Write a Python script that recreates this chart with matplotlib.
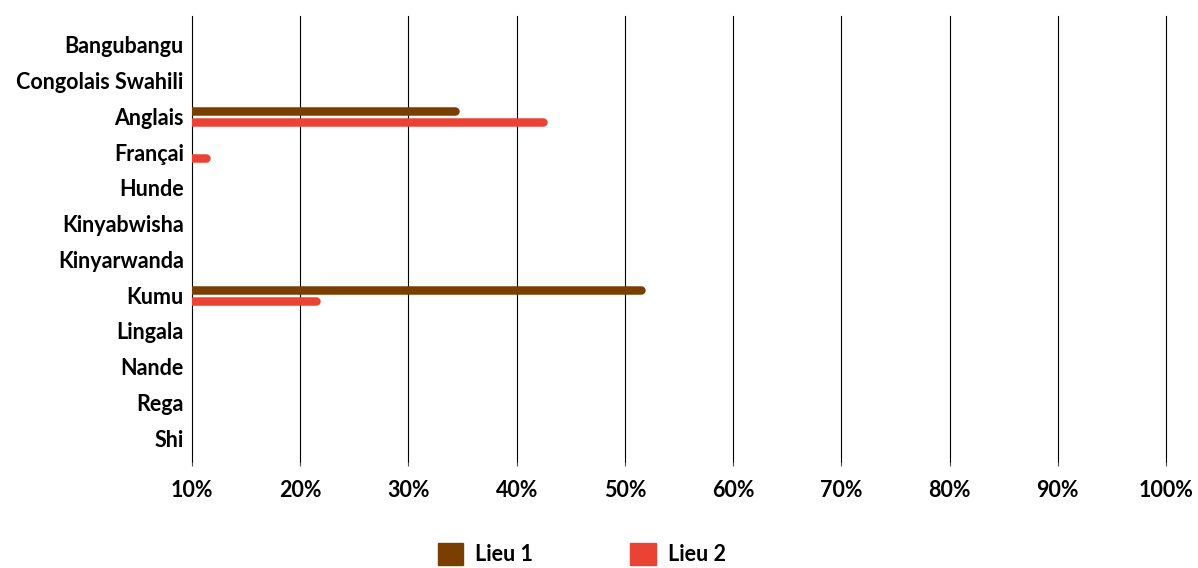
import matplotlib.pyplot as plt
from matplotlib.patches import Patch

langues = ['Bangubangu', 'Congolais Swahili', 'Anglais', 'Françai', 'Hunde',
           'Kinyabwisha', 'Kinyarwanda', 'Kumu', 'Lingala', 'Nande', 'Rega', 'Shi']
lieu1 = [0, 0, 34.3, 0, 0, 0, 0, 51.5, 0, 0, 0, 0]
lieu2 = [0, 0, 42.4, 11.3, 0, 0, 0, 21.5, 0, 0, 0, 0]
ticks = [10, 20, 30, 40, 50, 60, 70, 80, 90, 100]

c1 = '#7a3e00'
c2 = '#ea4335'

plt.rcParams['font.family'] = ['Lato', 'DejaVu Sans']
plt.rcParams['font.weight'] = 'bold'
fs = 15.5

fig = plt.figure(figsize=(11.98, 5.68), dpi=100)
ax = fig.add_axes([0.1603, 0.1866, 0.813, 0.7852])

pos = list(range(len(langues)))
off = 0.155
lw = 8.5 * 72 / 100

for i, (a, b) in enumerate(zip(lieu1, lieu2)):
    if a > 0:
        ax.hlines(i - off, 0, a, colors=c1, linewidth=lw, capstyle='round')
    if b > 0:
        ax.hlines(i + off, 0, b, colors=c2, linewidth=lw, capstyle='round')

ax.set_xlim(10, 100)
ax.set_ylim(11.67, -0.81)
ax.set_xticks(ticks)
ax.set_xticklabels([f'{t}%' for t in ticks])
ax.set_yticks(pos)
ax.set_yticklabels(langues)
ax.tick_params(axis='x', length=3, pad=10, labelsize=fs, color='#555555')
ax.tick_params(axis='y', length=0, pad=6, labelsize=fs)
ax.grid(axis='x', color='black', linewidth=0.8)
for g in ax.xaxis.get_gridlines():
    g.set_clip_on(False)
ax.set_axisbelow(True)
for s in ax.spines.values():
    s.set_visible(False)

handles = [Patch(color=c1, label='Lieu 1'), Patch(color=c2, label='Lieu 2')]
fig.legend(handles=handles, loc='center', bbox_to_anchor=(0.4855, 0.025), ncol=2,
           frameon=False, fontsize=fs, handlelength=1.2, handleheight=1.2,
           handletextpad=0.55, columnspacing=4.5)

fig.savefig('out.png', dpi=100)
